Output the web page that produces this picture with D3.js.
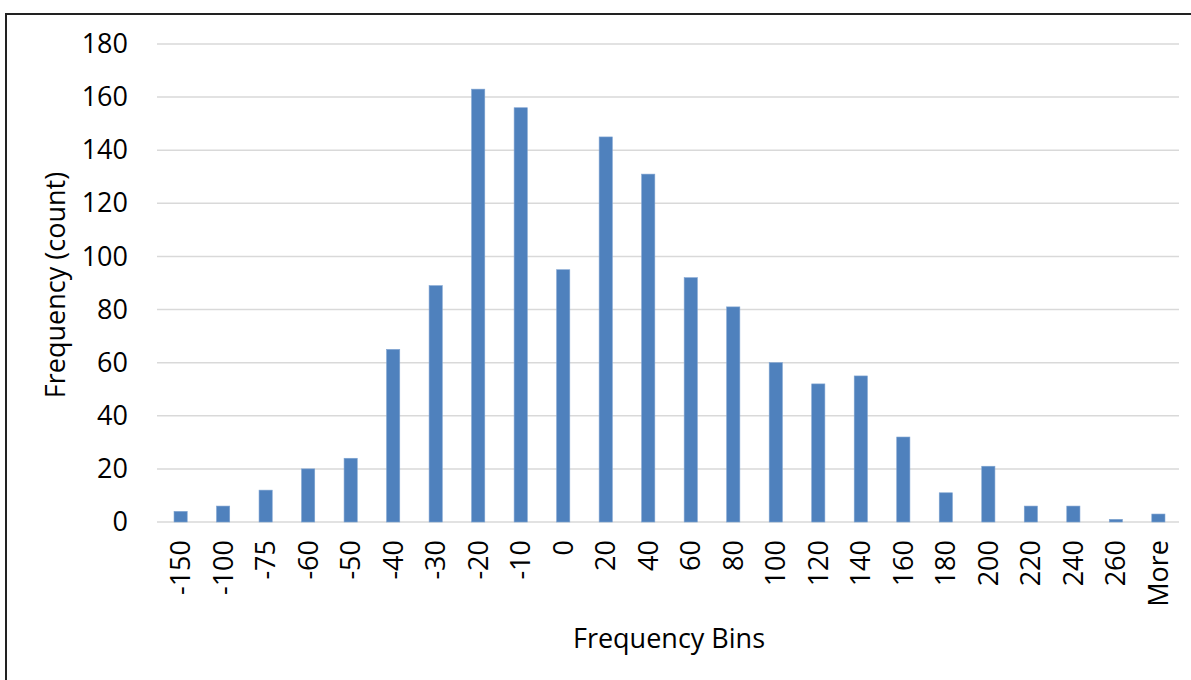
<!DOCTYPE html>
<html>
<head>
<meta charset="utf-8">
<script src="https://cdn.jsdelivr.net/npm/d3@7"></script>
<style>
  html, body { margin: 0; padding: 0; background: #fff; }
  svg { display: block; font-family: "Open Sans", Lato, sans-serif; }
</style>
</head>
<body>
<svg id="chart" width="1191" height="680"></svg>
<script>
const BINS = ["-150", "-100", "-75", "-60", "-50", "-40", "-30", "-20", "-10", "0",
  "20", "40", "60", "80", "100", "120", "140", "160", "180", "200", "220", "240", "260", "More"];
const FREQUENCY = [4, 6, 12, 20, 24, 65, 89, 163, 156, 95,
  145, 131, 92, 81, 60, 52, 55, 32, 11, 21, 6, 6, 1, 3];
const Y_TICKS = [0, 20, 40, 60, 80, 100, 120, 140, 160, 180];

const FONT = "'Open Sans', Lato, sans-serif";
const svg = d3.select("#chart");
const margin = { left: 157, right: 12, top: 44, bottom: 158 };
const width = 1191, height = 680;

// chart frame (runs off the right and bottom edges)
svg.append("rect")
  .attr("x", 6).attr("y", 14)
  .attr("width", 1200).attr("height", 700)
  .attr("fill", "none")
  .attr("stroke", "#222")
  .attr("stroke-width", 2);

const x = d3.scaleBand()
  .domain(BINS)
  .range([margin.left + 3, width - margin.right])
  .paddingInner(0.69)
  .paddingOuter(0.33);

const y = d3.scaleLinear()
  .domain([0, 180])
  .range([height - margin.bottom, margin.top]);

// gridlines
svg.append("g")
  .selectAll("line")
  .data(Y_TICKS)
  .enter()
  .append("line")
  .attr("x1", margin.left)
  .attr("x2", width - margin.right)
  .attr("y1", d => y(d))
  .attr("y2", d => y(d))
  .attr("stroke", "#d9d9d9")
  .attr("stroke-width", 1.5);

// bars
svg.append("g")
  .selectAll("rect")
  .data(FREQUENCY)
  .enter()
  .append("rect")
  .attr("x", (d, i) => x(BINS[i]))
  .attr("y", d => y(d))
  .attr("width", x.bandwidth())
  .attr("height", d => y(0) - y(d))
  .attr("fill", "#4f81bd")
  .attr("stroke", "#7ea3d1")
  .attr("stroke-width", 0.6);

// y tick labels
const yAxis = svg.append("g")
  .attr("transform", `translate(${margin.left},0)`)
  .call(d3.axisLeft(y).tickValues(Y_TICKS).tickSize(0).tickPadding(29));
yAxis.select(".domain").remove();
yAxis.selectAll("text")
  .attr("font-size", 27)
  .attr("font-family", FONT)
  .attr("fill", "#000");

// x tick labels, rotated
const xAxis = svg.append("g")
  .attr("transform", `translate(0,${y(0)})`)
  .call(d3.axisBottom(x).tickSize(0));
xAxis.select(".domain").remove();
xAxis.selectAll("text")
  .attr("font-size", 27)
  .attr("font-family", FONT)
  .attr("fill", "#000")
  .attr("text-anchor", "end")
  .attr("dy", "0.35em")
  .attr("transform", "translate(0,18) rotate(-90)")
  .attr("x", 0)
  .attr("y", 0);

// axis titles
svg.append("text")
  .attr("x", 669)
  .attr("y", 648)
  .attr("text-anchor", "middle")
  .attr("font-size", 27)
  .attr("fill", "#000")
  .text("Frequency Bins");

svg.append("text")
  .attr("transform", "translate(65,285) rotate(-90)")
  .attr("text-anchor", "middle")
  .attr("font-size", 27)
  .attr("fill", "#000")
  .text("Frequency (count)");
</script>
</body>
</html>
